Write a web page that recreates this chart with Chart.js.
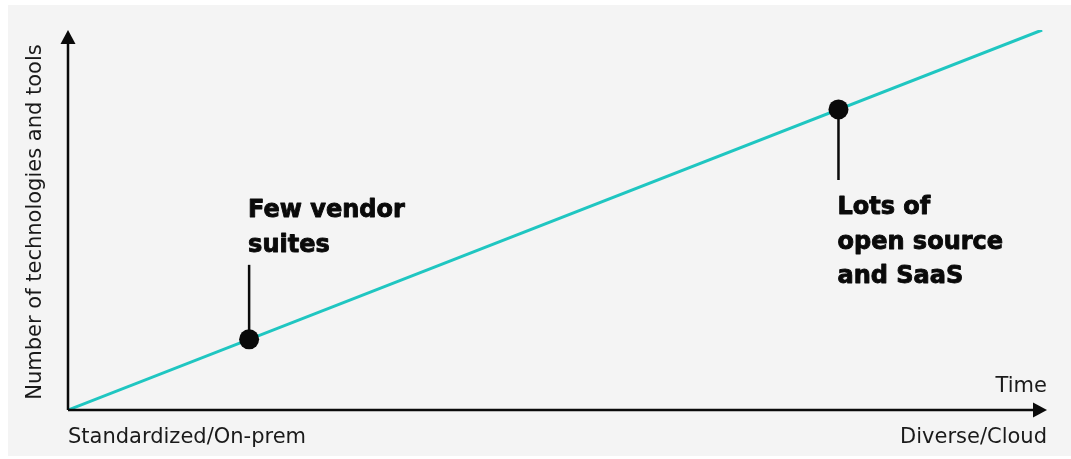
<!DOCTYPE html>
<html>
<head>
<meta charset="utf-8">
<script src="https://cdn.jsdelivr.net/npm/chart.js@4.4.0/dist/chart.umd.min.js"></script>
<style>
  html, body { margin: 0; padding: 0; background: #fff; }
  canvas { display: block; }
</style>
</head>
<body>
<canvas id="grafico" width="1071" height="459"></canvas>
<script>
// data (0..100 on both axes)
const trendX = [0, 99.5];
const trendY = [0, 100];
const hitosX = [18.5, 78.7];
const hitosY = [18.6, 79.1];
const stemEndY = [38.2, 60.5];
const notas = [["Few vendor", "suites"], ["Lots of", "open source", "and SaaS"]];
const yTitulo = "Number of technologies and tools";
const xTitulo = "Time";
const xInicio = "Standardized/On-prem";
const xFin = "Diverse/Cloud";

const teal = "#1fc6c1";
const negro = "#0a0a0a";

const trendData = trendX.map((x, i) => ({ x: x, y: trendY[i] }));
const hitosData = hitosX.map((x, i) => ({ x: x, y: hitosY[i] }));

const stemSets = hitosX.map((x, i) => ({
  data: [{ x: x, y: hitosY[i] }, { x: x, y: stemEndY[i] }],
  borderColor: negro,
  borderWidth: 2.5,
  pointRadius: 0,
  order: 1,
}));

const fondo = {
  id: "fondo",
  beforeDraw(chart) {
    const ctx = chart.ctx;
    ctx.save();
    ctx.fillStyle = "#ffffff";
    ctx.fillRect(0, 0, chart.width, chart.height);
    ctx.fillStyle = "#f4f4f4";
    ctx.fillRect(8, 5, chart.width - 8, chart.height - 8);
    ctx.restore();
  },
};

const ejesYTextos = {
  id: "ejesYTextos",
  afterDatasetsDraw(chart) {
    const ctx = chart.ctx;
    const a = chart.chartArea;
    const sx = chart.scales.x;
    const sy = chart.scales.y;
    ctx.save();

    // axes with arrow heads
    ctx.strokeStyle = negro;
    ctx.fillStyle = negro;
    ctx.lineWidth = 2.5;
    ctx.beginPath();
    ctx.moveTo(a.left, a.bottom);
    ctx.lineTo(a.right - 10, a.bottom);
    ctx.moveTo(a.left, a.bottom);
    ctx.lineTo(a.left, a.top + 10);
    ctx.stroke();
    ctx.beginPath();
    ctx.moveTo(a.right, a.bottom);
    ctx.lineTo(a.right - 14, a.bottom - 7.5);
    ctx.lineTo(a.right - 14, a.bottom + 7.5);
    ctx.closePath();
    ctx.fill();
    ctx.beginPath();
    ctx.moveTo(a.left, a.top);
    ctx.lineTo(a.left - 7.5, a.top + 14);
    ctx.lineTo(a.left + 7.5, a.top + 14);
    ctx.closePath();
    ctx.fill();

    // axis texts
    ctx.fillStyle = "#1a1a1a";
    ctx.font = "21px 'DejaVu Sans'";
    ctx.textBaseline = "alphabetic";
    ctx.textAlign = "left";
    ctx.fillText(xInicio, a.left, a.bottom + 33);
    ctx.textAlign = "right";
    ctx.fillText(xFin, a.right, a.bottom + 33);
    ctx.fillText(xTitulo, a.right, a.bottom - 18);

    ctx.save();
    ctx.translate(41, 222);
    ctx.rotate(-Math.PI / 2);
    ctx.textAlign = "center";
    ctx.fillText(yTitulo, 0, 0);
    ctx.restore();

    // notes next to the milestones
    ctx.fillStyle = negro;
    ctx.strokeStyle = negro;
    ctx.lineWidth = 0.9;
    ctx.lineJoin = "round";
    ctx.font = "bold 24px 'DejaVu Sans'";
    ctx.textAlign = "left";
    notas.forEach((lineas, i) => {
      const x = sx.getPixelForValue(hitosX[i]) - 1;
      const yStem = sy.getPixelForValue(stemEndY[i]);
      const sube = stemEndY[i] > hitosY[i];
      const alto = 34.5;
      lineas.forEach((t, j) => {
        let y;
        if (sube) y = yStem - 13 - (lineas.length - 1 - j) * alto;
        else y = yStem + 34 + j * alto;
        ctx.fillText(t, x, y);
        ctx.strokeText(t, x, y);
      });
    });
    ctx.restore();
  },
};

new Chart(document.getElementById("grafico").getContext("2d"), {
  type: "line",
  data: {
    datasets: [
      {
        data: hitosData,
        showLine: false,
        pointRadius: 10,
        pointHoverRadius: 10,
        pointBackgroundColor: negro,
        pointBorderWidth: 0,
        order: 0,
      },
      ...stemSets,
      {
        data: trendData,
        borderColor: teal,
        borderWidth: 3,
        pointRadius: 0,
        order: 2,
      },
    ],
  },
  options: {
    responsive: false,
    animation: false,
    layout: { padding: { left: 68, right: 24, top: 30, bottom: 49 } },
    plugins: { legend: { display: false }, tooltip: { enabled: false } },
    scales: {
      x: { type: "linear", min: 0, max: 100, display: false },
      y: { type: "linear", min: 0, max: 100, display: false },
    },
  },
  plugins: [fondo, ejesYTextos],
});
</script>
</body>
</html>
